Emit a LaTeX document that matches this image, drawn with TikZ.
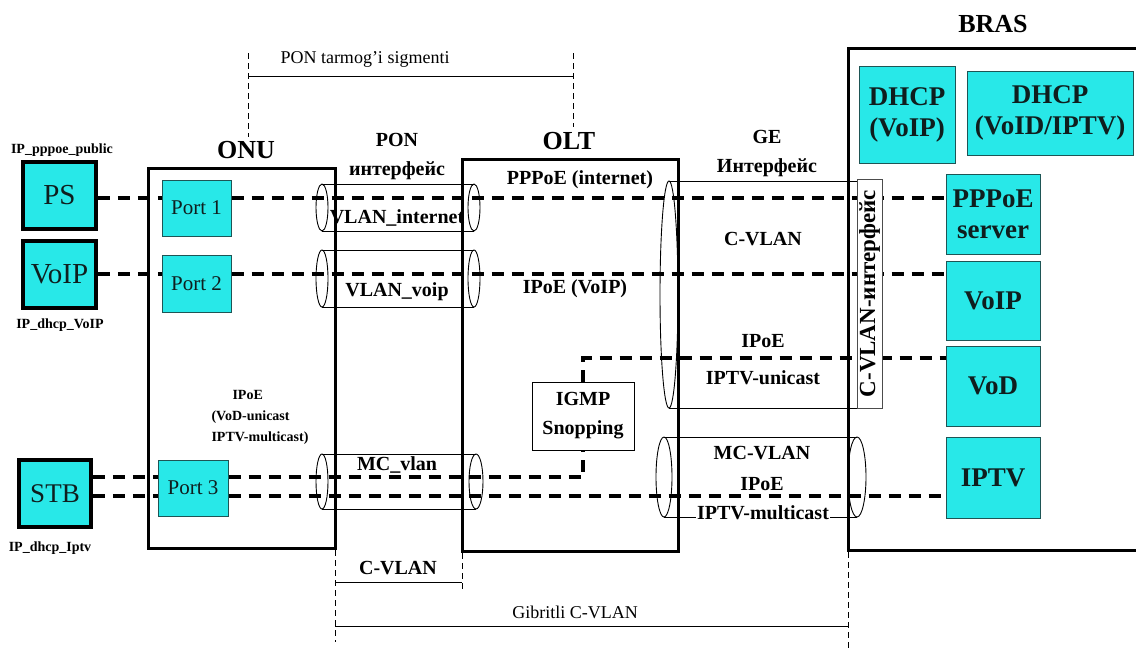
\documentclass[tikz,border=0pt]{standalone}
\usepackage{fontspec}
\setmainfont{Liberation Serif}
\definecolor{boxcyan}{RGB}{40,232,232}
\definecolor{boxedge}{RGB}{30,85,85}
\definecolor{ink}{RGB}{15,30,30}

\begin{document}
\begin{tikzpicture}[x=1pt,y=-1pt,
  unit/.style={line width=3pt},
  dev/.style={draw=black,line width=3.5pt,fill=boxcyan,inner sep=0pt,text=ink,font=\fontsize{29}{30}\selectfont},
  portbox/.style={draw=boxedge,line width=1pt,fill=boxcyan,inner sep=0pt,text=ink,font=\fontsize{21}{24}\selectfont},
  srv/.style={draw=boxedge,line width=1pt,fill=boxcyan,inner sep=0pt,text=ink,align=center,font=\bfseries\fontsize{27}{31}\selectfont},
  dline/.style={line width=3.5pt,dash pattern=on 12pt off 8pt},
  tube/.style={line width=0.9pt},
  guide/.style={line width=0.8pt,dash pattern=on 6pt off 4pt},
  lbl/.style={font=\bfseries\fontsize{20}{29}\selectfont,inner sep=1pt,align=center},
  title/.style={font=\bfseries\fontsize{26}{30}\selectfont,inner sep=0pt},
  iplbl/.style={font=\bfseries\fontsize{14}{21}\selectfont,inner sep=0pt},
  dimlbl/.style={font=\fontsize{18}{22}\selectfont,inner sep=0pt}]
\useasboundingbox (0,0) rectangle (1136,649);

% ONU, OLT and BRAS
\draw[unit] (148,168) rectangle (335,548);
\draw[unit] (462,159) rectangle (678,551);
\draw[unit] (1140,48) -- (848,48) -- (848,550) -- (1140,550);
\node[title] (onu) at (246,150) {ONU};
\node[title] (olt) at (569,141) {OLT};
\node[title] (bras) at (993,24) {BRAS};
\node[lbl] (ponif) at (397,157) {PON\\интерфейс};
\node[lbl] (geif) at (767,154) {GE\\Интерфейс};

% subscriber devices
\node[dev,minimum width=73pt,minimum height=67pt] (ps) at (59.5,195.5) {PS};
\node[dev,minimum width=73pt,minimum height=67pt] (voip) at (59.5,274.5) {VoIP};
\node[dev,minimum width=72pt,minimum height=67pt,font=\fontsize{27}{30}\selectfont] (stb) at (55,493.5) {STB};
\node[iplbl] at (62,150) {IP\_pppoe\_public};
\node[iplbl] at (60,325) {IP\_dhcp\_VoIP};
\node[iplbl] at (50,548) {IP\_dhcp\_Iptv};

\node[portbox,minimum width=69pt,minimum height=56pt] (port1) at (196.5,208) {Port 1};
\node[portbox,minimum width=69pt,minimum height=57pt] (port2) at (196.5,283.5) {Port 2};
\node[portbox,minimum width=70pt,minimum height=56pt] (port3) at (193,488) {Port 3};
\node[iplbl,align=left] (ipoeonu) at (260,417) {\hspace*{21pt}IPoE\\(VoD-unicast\\IPTV-multicast)};

% tubes
\draw[tube] (322,184) -- (474,184) (322,231) -- (474,231);
\draw[tube] (322,207.5) ellipse [x radius=6pt,y radius=23.5pt] (474,207.5) ellipse [x radius=6pt,y radius=23.5pt];
\draw[tube] (322,250) -- (474,250) (322,307) -- (474,307);
\draw[tube] (322,278.5) ellipse [x radius=6pt,y radius=28.5pt] (474,278.5) ellipse [x radius=6pt,y radius=28.5pt];
\draw[tube] (322,454) -- (476,454) (322,509) -- (476,509);
\draw[tube] (322,481.5) ellipse [x radius=6pt,y radius=27.5pt] (476,481.5) ellipse [x radius=7pt,y radius=27.5pt];
\draw[tube] (669,181) -- (857,181) (669,408) -- (857,408);
\draw[tube] (669,294.5) ellipse [x radius=9pt,y radius=113.5pt];
\draw[tube] (664,437) -- (857,437) (664,517) -- (857,517);
\draw[tube] (664,477) ellipse [x radius=8pt,y radius=40pt] (857,477) ellipse [x radius=9pt,y radius=40pt];

% BRAS servers
\node[srv,minimum width=96pt,minimum height=97pt] (dhcpv) at (907,114.5) {DHCP\\(VoIP)};
\node[srv,minimum width=166pt,minimum height=84pt] (dhcpi) at (1050,113) {DHCP\\(VoID/IPTV)};
\node[srv,minimum width=94pt,minimum height=80pt] (pppoe) at (993,214) {PPPoE\\server};
\node[srv,minimum width=94pt,minimum height=79pt] (bvoip) at (993,300.5) {VoIP};
\node[srv,minimum width=94pt,minimum height=80pt] (vod) at (993,386) {VoD};
\node[srv,minimum width=94pt,minimum height=81pt] (iptv) at (993,477.5) {IPTV};
\node[draw,line width=1pt,inner sep=0pt,minimum width=102pt,minimum height=68pt,lbl] (igmp) at (583,416) {IGMP\\Snopping};

% traffic
\coordinate (l1) at (0,198);
\coordinate (l2) at (0,274);
\coordinate (l3) at (0,358);
\coordinate (l4) at (0,477);
\coordinate (l5) at (0,496);
\draw[dline] (ps.east |- l1) -- (port1.west |- l1);
\draw[dline] (port1.east |- l1) -- (pppoe.west |- l1);
\draw[dline] (voip.east |- l2) -- (port2.west |- l2);
\draw[dline] (port2.east |- l2) -- (bvoip.west |- l2);
\draw[dline] (igmp.north) -- (igmp.north |- l3) -- (vod.west |- l3);
\draw[dline] (stb.east |- l4) -- (port3.west |- l4);
\draw[dline] (port3.east |- l4) -- (igmp.south |- l4) -- (igmp.south);
\draw[dline] (stb.east |- l5) -- (port3.west |- l5);
\draw[dline] (port3.east |- l5) -- (iptv.west |- l5);

\node[draw=black!70,line width=1pt,fill=white,rotate=90,minimum width=229pt,minimum height=25pt,inner sep=0pt,
  font=\bfseries\fontsize{23}{24}\selectfont] (cvif) at (869.5,293.5) {C-VLAN-интерфейс};

% labels on the links
\node[lbl] at (397,218) {VLAN\_internet};
\node[lbl] at (397,292) {VLAN\_voip};
\node[lbl,fill=white] at (397,465) {MC\_vlan};
\node[lbl] at (580,180) {PPPoE (internet)};
\node[lbl] at (575,289) {IPoE (VoIP)};
\node[lbl] at (763,239) {C-VLAN};
\node[lbl] at (763,341) {IPoE};
\node[lbl] at (763,378) {IPTV-unicast};
\node[lbl] at (762,453) {MC-VLAN};
\node[lbl] at (762,484) {IPoE};
\node[lbl,fill=white,inner ysep=0pt] at (763,513) {IPTV-multicast};

% segments
\coordinate (ponL) at (248,76);
\coordinate (ponR) at (573,76);
\draw[guide] (248,53) -- (248,137);
\draw[guide] (573,53) -- (573,127);
\draw[line width=0.9pt] (ponL) -- (ponR);
\node[dimlbl] at (365,59) {PON tarmog'i sigmenti};
\coordinate (cvL) at (335,582);
\coordinate (cvR) at (462,582);
\coordinate (gbL) at (335,626);
\coordinate (gbR) at (848,626);
\draw[guide] (335,550) -- (335,642);
\draw[guide] (462,553) -- (462,592);
\draw[guide] (848,552) -- (848,649);
\draw[line width=0.9pt] (cvL) -- (cvR);
\draw[line width=0.9pt] (gbL) -- (gbR);
\node[lbl] at (398,568) {C-VLAN};
\node[dimlbl] at (575,612) {Gibritli C-VLAN};
\end{tikzpicture}
\end{document}
